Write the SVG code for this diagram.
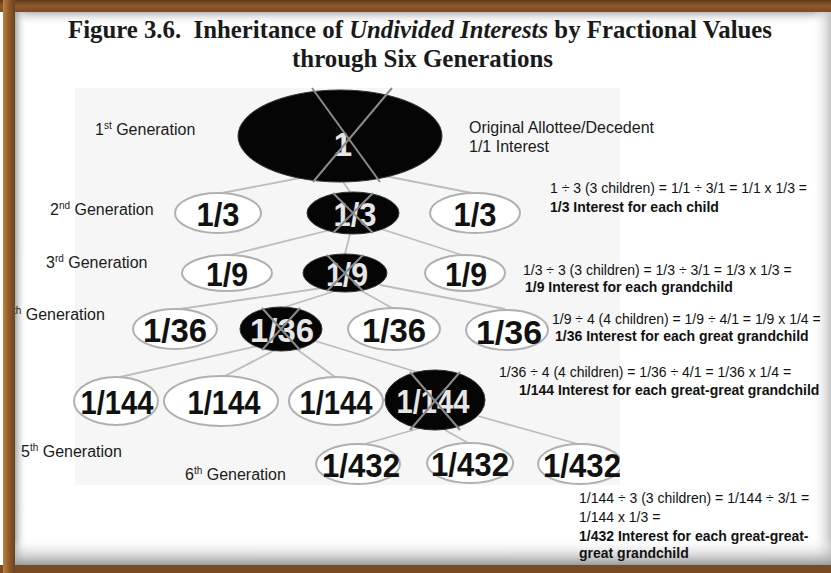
<svg xmlns="http://www.w3.org/2000/svg" width="831" height="573" viewBox="0 0 831 573">
<defs>
<linearGradient id="brownV" x1="0" y1="0" x2="0" y2="1"><stop offset="0" stop-color="#5e3a1c"/><stop offset="0.5" stop-color="#8e5a2a"/><stop offset="1" stop-color="#7a4b22"/></linearGradient>
<linearGradient id="brownH" x1="0" y1="0" x2="1" y2="0"><stop offset="0" stop-color="#c08040"/><stop offset="0.5" stop-color="#8e5a2a"/><stop offset="1" stop-color="#6b4222"/></linearGradient>
<linearGradient id="shadeL" x1="0" y1="0" x2="1" y2="0"><stop offset="0" stop-color="#a8a8a8"/><stop offset="1" stop-color="#ffffff" stop-opacity="0"/></linearGradient>
<linearGradient id="shadeR" x1="0" y1="0" x2="1" y2="0"><stop offset="0" stop-color="#ffffff" stop-opacity="0"/><stop offset="1" stop-color="#c4c4c4"/></linearGradient>
<linearGradient id="shadeB" x1="0" y1="0" x2="0" y2="1"><stop offset="0" stop-color="#ffffff" stop-opacity="0"/><stop offset="1" stop-color="#9a9a9a"/></linearGradient>
<linearGradient id="shadeT" x1="0" y1="0" x2="0" y2="1"><stop offset="0" stop-color="#b0b0b0"/><stop offset="1" stop-color="#ffffff" stop-opacity="0"/></linearGradient>
<clipPath id="photo"><rect x="62" y="86" width="558" height="400"/></clipPath>
<style>
.title{font-family:"Liberation Serif","Times New Roman",serif;font-weight:bold;font-size:26px;fill:#1a1a1a}
.gen{font-family:"Liberation Sans",Arial,sans-serif;font-size:16px;fill:#1a1a1a}
.sup{font-size:10px}
.note{font-family:"Liberation Sans",Arial,sans-serif;font-size:14px;fill:#111}
.noteb{font-family:"Liberation Sans",Arial,sans-serif;font-size:14px;font-weight:bold;fill:#111}
.wn{fill:#ffffff;stroke:#b0b0b0;stroke-width:2}
.bn{fill:#050505;stroke:#333;stroke-width:1}
.wt{font-family:"Liberation Sans",Arial,sans-serif;font-weight:bold;font-size:33px;fill:#111;text-anchor:middle}
.bt{font-family:"Liberation Sans",Arial,sans-serif;font-weight:bold;font-size:33px;fill:#e6e6e6;text-anchor:middle}
.edge{stroke:#bdbdbd;stroke-width:1.8;fill:none}
.cross{stroke:#8a8a8a;stroke-width:2;fill:none}
</style>
</defs>

<!-- frame -->
<rect x="0" y="0" width="831" height="573" fill="#ffffff"/>
<rect x="14" y="11" width="817" height="14" fill="url(#shadeT)"/>
<rect x="15" y="11" width="12" height="554" fill="url(#shadeL)"/>
<rect x="812" y="11" width="19" height="554" fill="url(#shadeR)"/>
<rect x="15" y="538" width="816" height="27" fill="url(#shadeB)"/>
<rect x="0" y="0" width="831" height="12" fill="url(#brownV)"/>
<rect x="0" y="565" width="831" height="8" fill="#7a4b22"/>

<!-- title -->
<g id="title">
<text class="title" x="68" y="38" textLength="704" lengthAdjust="spacingAndGlyphs">Figure 3.6.&#160; Inheritance of <tspan font-style="italic">Undivided Interests</tspan> by Fractional Values</text>
<text class="title" x="292" y="67" textLength="261" lengthAdjust="spacingAndGlyphs">through Six Generations</text>
</g>

<!-- photo background -->
<rect x="75" y="88" width="545" height="397" fill="#f6f6f6"/>

<g clip-path="url(#photo)">
<g id="connectors">
<path class="edge" d="M300,178 L222,193 M343,182 L350,192 M385,176 L472,193"/>
<path class="edge" d="M330,230 L230,255 M350,234 L345,254 M378,228 L462,255"/>
<path class="edge" d="M322,288 L180,309 M335,291 L285,307 M360,290 L392,308 M380,285 L505,309"/>
<path class="edge" d="M262,345 L120,377 M275,350 L225,376 M295,348 L335,377 M312,340 L420,373"/>
<path class="edge" d="M420,428 L365,444 M445,430 L470,444 M478,416 L578,444"/>
</g>

<g id="n1">
<ellipse class="bn" cx="340" cy="136" rx="102" ry="46"/>
<text class="bt" x="343" y="156" font-size="56">1</text>
<path class="cross" d="M312,88 L380,182 M392,88 L313,182"/>
</g>

<g id="n2a"><ellipse class="wn" cx="218" cy="213" rx="43" ry="20"/><text class="wt" x="218" y="226" textLength="43" lengthAdjust="spacingAndGlyphs">1/3</text></g>
<g id="n2b"><ellipse class="bn" cx="353" cy="213" rx="46" ry="21"/><text class="bt" x="355" y="226" textLength="43" lengthAdjust="spacingAndGlyphs">1/3</text><path class="cross" d="M333,193 L373,233 M373,193 L333,233"/></g>
<g id="n2c"><ellipse class="wn" cx="475" cy="213" rx="45" ry="20"/><text class="wt" x="475" y="226" textLength="43" lengthAdjust="spacingAndGlyphs">1/3</text></g>

<g id="n3a"><ellipse class="wn" cx="227" cy="273" rx="45" ry="18"/><text class="wt" x="227" y="286" textLength="42" lengthAdjust="spacingAndGlyphs">1/9</text></g>
<g id="n3b"><ellipse class="bn" cx="345" cy="273" rx="42" ry="19"/><text class="bt" x="347" y="286" textLength="42" lengthAdjust="spacingAndGlyphs">1/9</text><path class="cross" d="M327,255 L363,291 M363,255 L327,291"/></g>
<g id="n3c"><ellipse class="wn" cx="465" cy="273" rx="40" ry="18"/><text class="wt" x="466" y="286" textLength="42" lengthAdjust="spacingAndGlyphs">1/9</text></g>

<g id="n4a"><ellipse class="wn" cx="175" cy="329" rx="42" ry="20"/><text class="wt" x="175" y="342" textLength="64" lengthAdjust="spacingAndGlyphs">1/36</text></g>
<g id="n4b"><ellipse class="bn" cx="281" cy="329" rx="41" ry="22"/><text class="bt" x="282" y="342" textLength="64" lengthAdjust="spacingAndGlyphs">1/36</text><path class="cross" d="M262,308 L300,350 M300,308 L262,350"/></g>
<g id="n4c"><ellipse class="wn" cx="394" cy="329" rx="46" ry="21"/><text class="wt" x="394" y="342" textLength="64" lengthAdjust="spacingAndGlyphs">1/36</text></g>
<g id="n4d"><ellipse class="wn" cx="507" cy="330" rx="41" ry="20"/><text class="wt" x="509" y="344" textLength="66" lengthAdjust="spacingAndGlyphs">1/36</text></g>

<g id="n5a"><ellipse class="wn" cx="116" cy="401" rx="42" ry="24"/><text class="wt" x="117" y="414" textLength="73" lengthAdjust="spacingAndGlyphs">1/144</text></g>
<g id="n5b"><ellipse class="wn" cx="221" cy="401" rx="57" ry="25"/><text class="wt" x="224" y="414" textLength="73" lengthAdjust="spacingAndGlyphs">1/144</text></g>
<g id="n5c"><ellipse class="wn" cx="336" cy="401" rx="47" ry="24"/><text class="wt" x="336" y="414" textLength="73" lengthAdjust="spacingAndGlyphs">1/144</text></g>
<g id="n5d"><ellipse class="bn" cx="435" cy="400" rx="50" ry="30"/><text class="bt" x="433" y="413" textLength="73" lengthAdjust="spacingAndGlyphs">1/144</text><path class="cross" d="M410,372 L460,430 M460,372 L410,430"/></g>

<g id="n6a"><ellipse class="wn" cx="358" cy="464" rx="42" ry="20"/><text class="wt" x="361" y="477" textLength="78" lengthAdjust="spacingAndGlyphs">1/432</text></g>
<g id="n6b"><ellipse class="wn" cx="470" cy="463" rx="43" ry="20"/><text class="wt" x="470" y="476" textLength="78" lengthAdjust="spacingAndGlyphs">1/432</text></g>
<g id="n6c"><ellipse class="wn" cx="580" cy="464" rx="42" ry="20"/><text class="wt" x="582" y="477" textLength="78" lengthAdjust="spacingAndGlyphs">1/432</text></g>
</g>

<!-- generation labels -->
<g id="labels">
<text class="gen" x="95" y="135">1<tspan class="sup" dy="-6">st</tspan><tspan dy="6"> Generation</tspan></text>
<text class="gen" x="50" y="215">2<tspan class="sup" dy="-6">nd</tspan><tspan dy="6"> Generation</tspan></text>
<text class="gen" x="46" y="268">3<tspan class="sup" dy="-6">rd</tspan><tspan dy="6"> Generation</tspan></text>
<text class="gen" x="4" y="320">4<tspan class="sup" dy="-6">th</tspan><tspan dy="6"> Generation</tspan></text>
<text class="gen" x="21" y="457">5<tspan class="sup" dy="-6">th</tspan><tspan dy="6"> Generation</tspan></text>
<text class="gen" x="185" y="480">6<tspan class="sup" dy="-6">th</tspan><tspan dy="6"> Generation</tspan></text>
</g>

<!-- annotations -->
<g id="notes">
<text class="gen" x="469" y="133">Original Allottee/Decedent</text>
<text class="gen" x="469" y="152">1/1 Interest</text>
<text class="note" x="550" y="193">1 ÷ 3 (3 children) = 1/1 ÷ 3/1 = 1/1 x 1/3 =</text>
<text class="noteb" x="550" y="212">1/3 Interest for each child</text>
<text class="note" x="523" y="275">1/3 ÷ 3 (3 children) = 1/3 ÷ 3/1 = 1/3 x 1/3 =</text>
<text class="noteb" x="525" y="292">1/9 Interest for each grandchild</text>
<text class="note" x="552" y="324">1/9 ÷ 4 (4 children) = 1/9 ÷ 4/1 = 1/9 x 1/4 =</text>
<text class="noteb" x="555" y="341">1/36 Interest for each great grandchild</text>
<text class="note" x="499" y="377">1/36 ÷ 4 (4 children) = 1/36 ÷ 4/1 = 1/36 x 1/4 =</text>
<text class="noteb" x="519" y="395">1/144 Interest for each great-great grandchild</text>
<text class="note" x="579" y="503">1/144 ÷ 3 (3 children) = 1/144 ÷ 3/1 =</text>
<text class="note" x="579" y="522">1/144 x 1/3 =</text>
<text class="noteb" x="579" y="541">1/432 Interest for each great-great-</text>
<text class="noteb" x="579" y="558">great grandchild</text>
</g>

<!-- left border over cut label -->
<rect x="3" y="0" width="12" height="573" fill="url(#brownH)"/>
</svg>
